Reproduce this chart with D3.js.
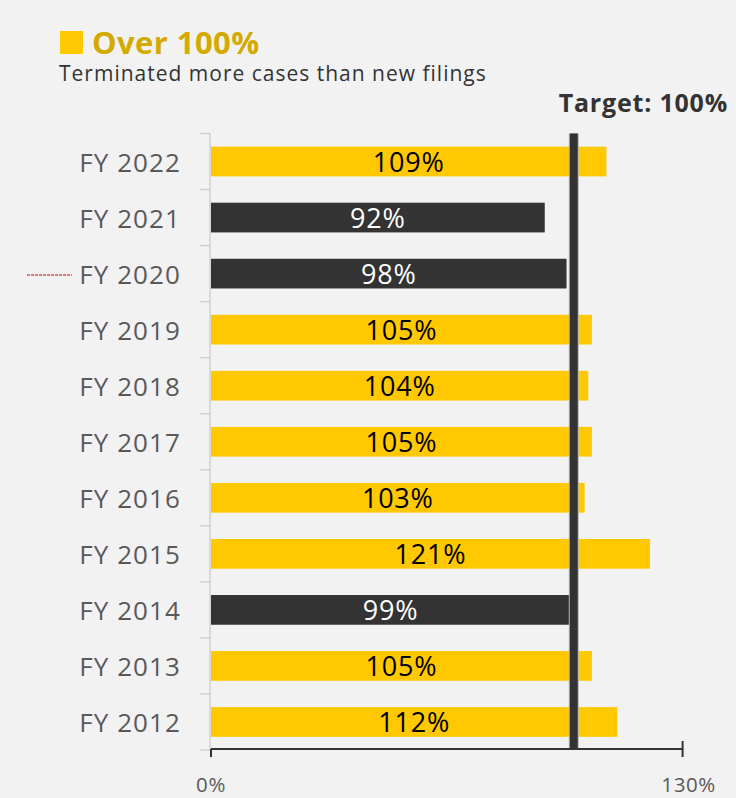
<!DOCTYPE html>
<html><head><meta charset="utf-8">
<script src="https://cdn.jsdelivr.net/npm/d3@7"></script>
<style>
html,body{margin:0;padding:0;background:#f2f2f2;}
svg{display:block;font-family:"Open Sans",sans-serif;}
</style></head>
<body><svg id="c" width="736" height="798"></svg>
<script>
const categories = ["FY 2022","FY 2021","FY 2020","FY 2019","FY 2018","FY 2017","FY 2016","FY 2015","FY 2014","FY 2013","FY 2012"];
const values = [109,92,98,105,104,105,103,121,99,105,112];
const target = 100;
const xTicks = [0,130];

const svg = d3.select("#c");
svg.append("rect").attr("width",736).attr("height",798).attr("fill","#f2f2f2");

const x = d3.scaleLinear().domain([0,130]).range([211,682.6]);
const y = d3.scaleBand().domain(categories).range([133.5,750]).paddingInner(0.47).paddingOuter(0.235);
const yb = d3.scaleBand().domain(categories).range([133.5,750]);

const YEL="#FFC800", DARK="#333333";

// vertical axis line + category ticks
svg.append("line").attr("x1",210).attr("x2",210).attr("y1",133.5).attr("y2",750).attr("stroke","#d0d0d0").attr("stroke-width",1.5);
categories.forEach(c=>{
  svg.append("line").attr("x1",200).attr("x2",210).attr("y1",yb(c)).attr("y2",yb(c)).attr("stroke","#d0d0d0").attr("stroke-width",1.5);
});
svg.append("line").attr("x1",200).attr("x2",210).attr("y1",750).attr("y2",750).attr("stroke","#d0d0d0").attr("stroke-width",1.5);

// bars
svg.selectAll("rect.bar").data(categories).join("rect").attr("class","bar")
  .attr("x",x(0)).attr("y",d=>y(d)).attr("height",y.bandwidth())
  .attr("width",(d,i)=>x(values[i])-x(0))
  .attr("fill",(d,i)=>values[i]>=target?YEL:DARK);

// target line
svg.append("rect").attr("x",x(target)-5).attr("y",133.5).attr("width",10).attr("height",616).attr("fill","#b8b8b8");
svg.append("rect").attr("x",x(target)-4).attr("y",133.5).attr("width",8).attr("height",616).attr("fill",DARK);

// data labels
svg.selectAll("text.val").data(categories).join("text").attr("class","val")
  .attr("x",(d,i)=>(x(0)+x(values[i]))/2).attr("y",d=>y(d)+y.bandwidth()/2+10)
  .attr("text-anchor","middle").attr("font-size",27).attr("letter-spacing",0.8)
  .attr("fill",(d,i)=>values[i]>=target?"#000":"#fff")
  .text((d,i)=>values[i]+"%");

// category labels
svg.selectAll("text.cat").data(categories).join("text").attr("class","cat")
  .attr("x",181).attr("y",d=>y(d)+y.bandwidth()/2+10)
  .attr("text-anchor","end").attr("font-size",26).attr("letter-spacing",1.1).attr("fill","#595959")
  .text(d=>d);

// bottom axis
const ax = svg.append("g").attr("transform","translate(0,749)");
ax.append("line").attr("x1",x(0)).attr("x2",x(130)).attr("stroke",DARK).attr("stroke-width",2);
xTicks.forEach(t=>{
  ax.append("line").attr("x1",x(t)).attr("x2",x(t)).attr("y1",t===0?0:-8).attr("y2",8).attr("stroke",DARK).attr("stroke-width",2);
  ax.append("text").attr("x",x(t)+(t===0?0:6)).attr("y",43).attr("text-anchor","middle").attr("font-size",20.5).attr("letter-spacing",0.6).attr("fill","#595959").text(t+"%");
});

// red dashed marker
svg.append("line").attr("x1",27).attr("x2",72).attr("y1",275).attr("y2",275).attr("stroke","#c00000").attr("stroke-width",1).attr("stroke-dasharray","3,1");

// titles
svg.append("rect").attr("x",60).attr("y",31).attr("width",23).attr("height",23).attr("fill",YEL);
svg.append("text").attr("x",92).attr("y",54).attr("font-size",31).attr("letter-spacing",0.4).attr("font-weight","bold").attr("fill","#D4A900").text("Over 100%");
svg.append("text").attr("x",59).attr("y",81).attr("font-size",21).attr("letter-spacing",1).attr("fill","#333").text("Terminated more cases than new filings");
svg.append("text").attr("x",728).attr("y",112).attr("text-anchor","end").attr("font-size",25).attr("letter-spacing",0.8).attr("font-weight","bold").attr("fill","#333").text("Target: 100%");
</script></body></html>
